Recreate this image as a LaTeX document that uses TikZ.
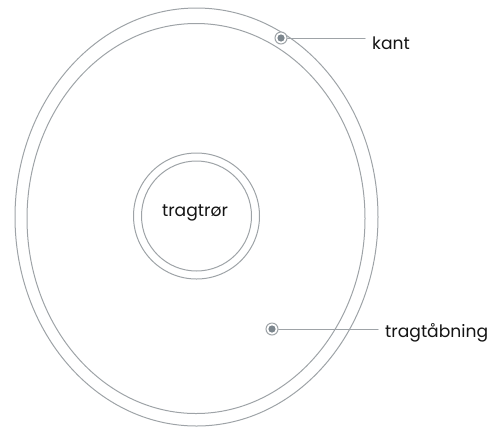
\documentclass[tikz,border=0pt]{standalone}
\usepackage{fontspec}
\setmainfont{Poppins}
\usetikzlibrary{calc}
\definecolor{rimGray}{HTML}{9EA3A7}
\definecolor{dotGray}{HTML}{7C868D}
\definecolor{textBlack}{HTML}{141414}

\begin{document}
\begin{tikzpicture}[
  x=1bp, y=-1bp,
  line cap=round,
  every node/.style={font=\fontsize{17.2}{19}\selectfont, text=textBlack},
  rim/.style={draw=rimGray, line width=1bp},
  marker/.style={circle, draw=rimGray, fill=white, line width=1bp,
    minimum size=12bp, inner sep=0pt,
    path picture={\fill[dotGray] (path picture bounding box.center) circle (3.6bp);}},
  callout/.style={anchor=base west, inner xsep=7bp, inner ysep=0pt}
]
  \useasboundingbox (0,0) rectangle (500,430);

  \coordinate (C) at (196.5,217);

  % Funnel rim (outer and inner edge)
  \draw[rim] (C) ellipse (181.5 and 209);
  \draw[rim] ($(C)+(-0.5,1.5)$) ellipse (169 and 195);

  % Funnel tube
  \draw[rim] ($(C)+(0,-1)$) circle (63);
  \draw[rim] ($(C)+(0,-1)$) circle (55);
  \node[anchor=base] (tube) at (195,216) {tragtrør};

  % Markers
  \node[marker] (rimdot) at (281,38) {};
  \node[marker] (openingdot) at (272,329) {};

  % Labels (west anchor sits where the lead line ends)
  \node[callout] (rimlabel) at (365,49) {kant};
  \node[callout] (openinglabel) at (378,337) {tragtåbning};

  % Lead lines
  \draw[rim] (rimdot) -- (rimdot -| rimlabel.west);
  \draw[rim] (openingdot) -- (openingdot -| openinglabel.west);
\end{tikzpicture}
\end{document}
